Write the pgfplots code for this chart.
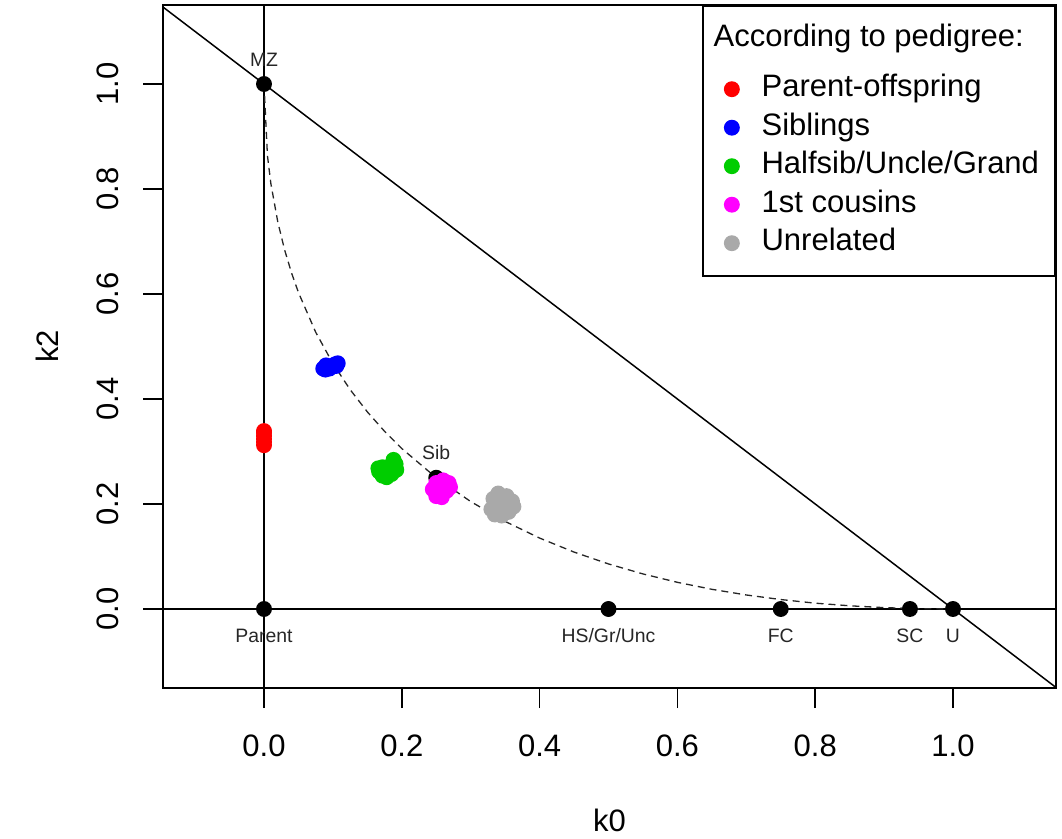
\documentclass[border=0pt]{standalone}
\usepackage{fontspec}
\setmainfont{Liberation Sans}
\usepackage{pgfplots}
\pgfplotsset{compat=1.18}
\definecolor{rgreen}{RGB}{0,205,0}
\definecolor{rgray}{RGB}{169,169,169}
\definecolor{rmagenta}{RGB}{255,0,255}
\tikzset{lab/.style={font=\fontsize{9.7bp}{11bp}\selectfont, text=black!85, inner sep=0pt, anchor=center}}
\begin{document}
\begin{tikzpicture}
\path[use as bounding box] (-81.5bp,-75.5bp) rectangle (449.5bp,344bp);
\begin{axis}[
  scale only axis, width=446.5bp, height=341.5bp,
  xmin=-0.1466, xmax=1.1495, ymin=-0.1505, ymax=1.1505,
  xtick={0,0.2,0.4,0.6,0.8,1}, ytick={0,0.2,0.4,0.6,0.8,1},
  tick pos=left, tick align=outside, major tick length=10bp,
  axis line style={line width=1bp}, every tick/.style={black, line width=0.8bp},
  /pgf/number format/assume math mode=true,
  xticklabel={\pgfmathprintnumber[fixed,precision=1,zerofill]{\tick}},
  yticklabel={\pgfmathprintnumber[fixed,precision=1,zerofill]{\tick}},
  tick label style={font=\fontsize{15.5bp}{18bp}\selectfont, inner sep=0pt},
  xticklabel style={anchor=north}, xticklabel shift=13bp,
  yticklabel style={rotate=90, anchor=south}, yticklabel shift=12bp,
  xlabel={k0}, ylabel={k2},
  label style={font=\fontsize{15.5bp}{18bp}\selectfont},
  xlabel style={at={(axis description cs:0.5,-0.1933)}, anchor=center},
  ylabel style={at={(axis description cs:-0.1299,0.5)}, anchor=center},
  legend style={at={(rel axis cs:1,1)}, anchor=north east, draw=black, line width=1bp,
    inner xsep=4.5bp, inner ysep=7bp, font=\fontsize{15.5bp}{19.25bp}\selectfont,
    nodes={inner sep=0pt, text depth=}, row sep=0pt, column sep=5bp},
  legend cell align=left,
  legend image code/.code={\path (0bp,0bp) (19bp,0bp); \draw[#1] plot coordinates {(9.5bp,0bp)};},
  every axis plot/.append style={line width=0.75bp},
]
\addlegendimage{empty legend}
\addlegendentry{\hspace{-24bp}According to pedigree:\rule[-11.5bp]{0pt}{1bp}\strut}
% reference lines
\addplot[black, forget plot] coordinates {(-0.2,1.2) (1.2,-0.2)};
\addplot[black, forget plot] coordinates {(0,-0.2) (0,1.2)};
\addplot[black, forget plot] coordinates {(-0.2,0) (1.2,0)};
% boundary curve
\addplot[black!85, line width=0.65bp, dash pattern=on 3.5bp off 2.5bp, forget plot] coordinates {
(0,1) (0.005,0.8636) (0.01,0.81) (0.02,0.7372) (0.03,0.6836) (0.04,0.64) (0.05,0.6028)
(0.075,0.5273) (0.1,0.4675) (0.125,0.4179) (0.15,0.3754) (0.175,0.3384) (0.2,0.3056)
(0.25,0.25) (0.3,0.2046) (0.35,0.1668) (0.4,0.1351) (0.45,0.1084) (0.5,0.0858)
(0.55,0.0668) (0.6,0.0508) (0.65,0.0375) (0.7,0.0267) (0.75,0.0180) (0.8,0.0111)
(0.85,0.0061) (0.9,0.0026) (0.95,0.00064) (1,0)};
% pedigree points
\addplot[only marks, mark=*, mark size=3.6bp, black, forget plot] coordinates {
(0,1) (0,0) (0.5,0) (0.75,0) (0.9375,0) (1,0) (0.25,0.25)};
\node[lab, yshift=12bp] at (axis cs:0,1) {MZ};
\node[lab, yshift=12.5bp] at (axis cs:0.25,0.25) {Sib};
\node[lab, yshift=-13.5bp] at (axis cs:0,0) {Parent};
\node[lab, yshift=-13.5bp] at (axis cs:0.5,0) {HS/Gr/Unc};
\node[lab, yshift=-13.5bp] at (axis cs:0.75,0) {FC};
\node[lab, yshift=-13.5bp] at (axis cs:0.9375,0) {SC};
\node[lab, yshift=-13.5bp] at (axis cs:1,0) {U};
% clusters
\addplot[only marks, mark=*, mark size=3.6bp, red] coordinates {
(0,0.312) (0,0.318) (0,0.324) (0,0.330) (0,0.336) (0,0.339)};
\addlegendentry{Parent-offspring\strut}
\addplot[only marks, mark=*, mark size=3.6bp, blue] coordinates {
(0.086,0.458) (0.089,0.456) (0.092,0.462) (0.095,0.458) (0.090,0.464)
(0.100,0.462) (0.103,0.466) (0.107,0.468) (0.105,0.463)};
\addlegendentry{Siblings\strut}
\addplot[only marks, mark=*, mark size=3.6bp, rgreen] coordinates {
(0.167,0.262) (0.172,0.254) (0.178,0.251) (0.185,0.257) (0.192,0.265) (0.187,0.272)
(0.180,0.270) (0.172,0.270) (0.176,0.262) (0.188,0.284) (0.191,0.276) (0.166,0.268)};
\addlegendentry{Halfsib/Uncle/Grand\hspace{3.5bp}\strut}
\addplot[only marks, mark=*, mark size=3.6bp, rmagenta] coordinates {
(0.250,0.240) (0.260,0.245) (0.268,0.240) (0.270,0.232) (0.265,0.225) (0.255,0.222)
(0.250,0.215) (0.258,0.213) (0.245,0.228) (0.260,0.232)};
\addlegendentry{1st cousins\strut}
\addplot[only marks, mark=*, mark size=3.6bp, rgray] coordinates {
(0.330,0.190) (0.335,0.180) (0.345,0.178) (0.355,0.185) (0.362,0.195) (0.360,0.205)
(0.352,0.215) (0.340,0.220) (0.333,0.210) (0.345,0.200) (0.350,0.190) (0.338,0.198)};
\addlegendentry{Unrelated\strut}
\end{axis}
\end{tikzpicture}
\end{document}
